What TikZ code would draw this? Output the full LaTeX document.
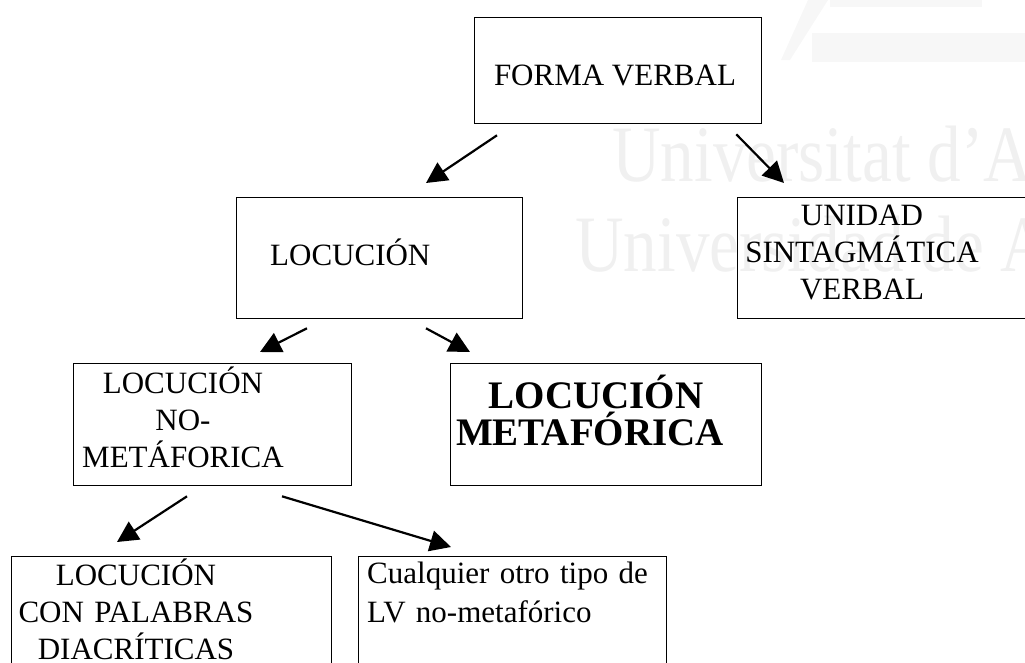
\documentclass[tikz,border=0pt]{standalone}
\usepackage{fontspec}
\setmainfont{Liberation Serif}
\usetikzlibrary{arrows.meta,calc}

\tikzset{
  caja/.style={draw,line width=1.3pt,inner sep=0pt,anchor=north west},
  texto/.style={inner sep=0pt,font=\fontsize{31}{37}\selectfont},
  flecha/.style={line width=2.2pt,-{Triangle[length=21pt,width=21pt]}},
  marca/.style={inner sep=0pt,anchor=base west,text=black!6,font=\fontsize{80}{80}\selectfont}
}

\begin{document}
\begin{tikzpicture}[x=1pt,y=-1pt]
\useasboundingbox (0,0) rectangle (1025,662);
\clip (0,0) rectangle (1025,662);

% Watermark
\fill[black!3] (808,0) -- (828,0) -- (790,60) -- (781,60) -- cycle;
\fill[black!3] (830,0) rectangle (982,7);
\fill[black!3] (812,33) rectangle (1025,62);
\node[marca] (wm1) at (612,181) {\scalebox{0.84}[1]{Universitat d’A}};
\node[marca] (wm2) at (575,271) {\scalebox{0.84}[1]{Universidad de A}};

% Boxes
\node[caja,minimum width=287,minimum height=106] (forma) at (474,17) {};
\node[caja,minimum width=286,minimum height=121] (locucion) at (236,197) {};
\node[caja,minimum width=300,minimum height=121] (unidad) at (737,197) {};
\node[caja,minimum width=278,minimum height=122] (nomet) at (73,363) {};
\node[caja,minimum width=311,minimum height=122] (met) at (450,363) {};
\node[caja,minimum width=320,minimum height=120] (palabras) at (11,556) {};
\node[caja,minimum width=308,minimum height=120] (otro) at (358,556) {};

% Texts
\node[texto,anchor=base] (forma-t) at (615,85) {FORMA VERBAL};
\node[texto,anchor=base west] (locucion-t) at (270,265) {LOCUCIÓN};
\node[texto,anchor=base,text width=260,align=center] (unidad-t) at (862,225)
  {UNIDAD\\SINTAGMÁTICA\\VERBAL};
\node[texto,anchor=base,text width=250,align=center] (nomet-t) at (183,393)
  {LOCUCIÓN\\NO-\\METÁFORICA};
\node[texto,anchor=base,text width=300,align=center,font=\fontsize{39}{37}\selectfont\bfseries]
  (met-t) at (590,408) {\hspace*{12pt}LOCUCIÓN\\METAFÓRICA};
\node[texto,anchor=base,text width=300,align=center] (palabras-t) at (136,585)
  {LOCUCIÓN\\CON PALABRAS\\DIACRÍTICAS};
\node[texto,anchor=base west,text width=300,align=left,font=\fontsize{31}{39}\selectfont]
  (otro-t) at (367,583) {Cualquier otro tipo de\\LV no-metafórico};

% Arrows
\draw[flecha] ($(forma.south west)+(23,11)$) -- ($(locucion.north west)+(190,-14)$);
\draw[flecha] ($(forma.south east)+(-26,10)$) -- ($(unidad.north west)+(47,-14)$);
\draw[flecha] ($(locucion.south west)+(71,9)$) -- ($(nomet.north west)+(187,-11)$);
\draw[flecha] ($(locucion.south west)+(190,9)$) -- ($(met.north west)+(20,-11)$);
\draw[flecha] ($(nomet.south west)+(114,10)$) -- ($(palabras.north west)+(106,-14)$);
\draw[flecha] ($(nomet.south west)+(209,10)$) -- ($(otro.north west)+(93,-9)$);
\end{tikzpicture}
\end{document}
